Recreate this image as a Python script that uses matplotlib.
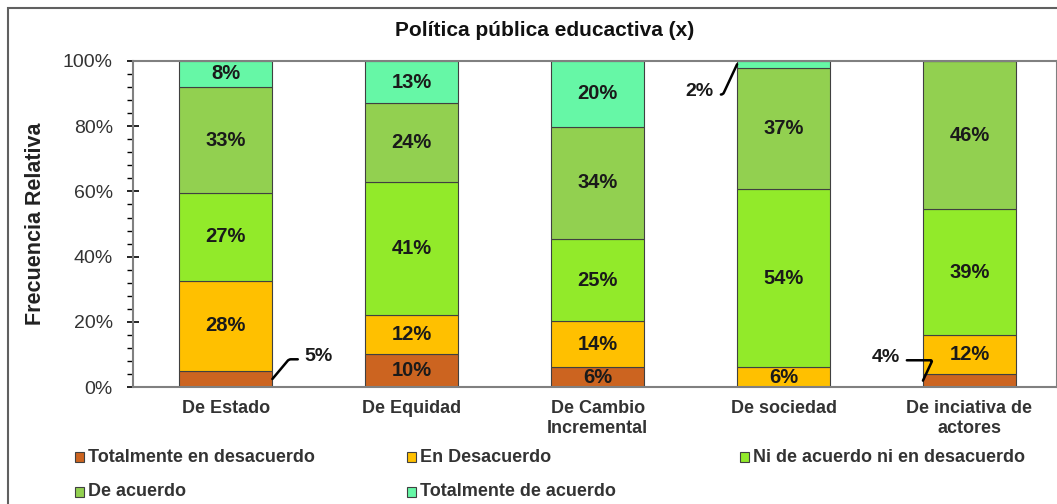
import matplotlib.pyplot as plt
import numpy as np
from matplotlib.patches import Rectangle
from matplotlib.ticker import MultipleLocator, PercentFormatter

plt.rcParams['font.family'] = ['Liberation Sans', 'DejaVu Sans']

# data (percent per category)
categories = ['De Estado', 'De Equidad', 'De Cambio\nIncremental', 'De sociedad', 'De inciativa de\nactores']
series = ['Totalmente en desacuerdo', 'En Desacuerdo', 'Ni de acuerdo ni en desacuerdo',
          'De acuerdo', 'Totalmente de acuerdo']
tot_desacuerdo = [5, 10, 6, 0, 4]
desacuerdo = [28, 12, 14, 6, 12]
ni_ni = [27, 41, 25, 54, 39]
de_acuerdo = [33, 24, 34, 37, 46]
tot_acuerdo = [8, 13, 20, 2, 0]
colors = ['#CC6420', '#FFC000', '#92EA2A', '#92D050', '#66F7A6']

vals = np.array([tot_desacuerdo, desacuerdo, ni_ni, de_acuerdo, tot_acuerdo], dtype=float)
heights = vals / vals.sum(axis=0) * 100  # stacked to 100%

# labels drawn outside the bar with a leader line: (series, bar, text x, text y, line angle)
outside = [(0, 0, 0.50, 9.3, 50), (4, 3, 2.55, 90.5, 65), (0, 4, 3.55, 9.0, 65)]

fig = plt.figure(figsize=(10.57, 5.04), dpi=100)
ax = fig.add_axes([0.1258, 0.232, 0.874, 0.647])
x = np.arange(len(categories))
w = 0.5
bottom = np.zeros(len(categories))
for i, name in enumerate(series):
    ax.bar(x, heights[i], w, bottom=bottom, color=colors[i], edgecolor='#404040', linewidth=0.8, label=name)
    for j in range(len(categories)):
        if vals[i, j] == 0 or any(o[0] == i and o[1] == j for o in outside):
            continue
        ax.text(x[j], bottom[j] + heights[i, j] / 2, f'{int(vals[i, j])}%', ha='center', va='center',
                fontsize=14.5, fontweight='bold', color='#1a1a1a')
    bottom += heights[i]

# leader-line labels
bases = np.vstack([np.zeros(len(categories)), np.cumsum(heights, axis=0)])
for i, j, tx, ty, ang in outside:
    mid = bases[i, j] + heights[i, j] / 2
    right = tx > x[j]
    xe = x[j] + w / 2 if right else x[j] - w / 2
    ax.annotate(f'{int(vals[i, j])}%', xy=(xe, mid), xytext=(tx, ty), ha='center', va='center',
                fontsize=14, fontweight='bold', color='#1a1a1a',
                arrowprops=dict(arrowstyle='-', color='black', lw=1.8, shrinkA=3, shrinkB=0,
                                relpos=(0, 0.35) if right else (1, 0.35),
                                connectionstyle=f'angle,angleA=0,angleB={ang},rad=2'))

ax.set_xlim(-0.5, 4.47)
ax.set_ylim(0, 100)
ax.set_xticks(x)
ax.set_xticklabels(categories, fontsize=13, fontweight='bold', color='#333333', linespacing=1.25)
ax.tick_params(axis='x', length=0, pad=9)
ax.yaxis.set_major_locator(MultipleLocator(20))
ax.yaxis.set_minor_locator(MultipleLocator(4))
ax.yaxis.set_major_formatter(PercentFormatter(decimals=0))
ax.tick_params(axis='y', which='major', direction='inout', length=9, width=1.2, labelsize=14,
               labelcolor='#333333', pad=10)
ax.tick_params(axis='y', which='minor', direction='out', length=4, width=1)
for s in ax.spines.values():
    s.set_color('#808080')
    s.set_linewidth(1.5)
ax.set_ylabel('Frecuencia Relativa', fontsize=15.5, fontweight='bold', color='#222222', labelpad=12)

fig.text(545 / 1057, 1 - 30 / 504, 'Política pública educactiva (x)', fontsize=15, fontweight='bold',
         color='#111111', ha='center', va='center')

# outer frame
fig.add_artist(Rectangle((0.008, -0.05), 1.2, 0.984 + 0.05, transform=fig.transFigure,
                         fill=False, edgecolor='#606060', linewidth=1.5))

# legend (3 columns)
leg_pos = [(80, 457), (412, 457), (745, 457), (80, 492), (412, 492)]
for (px, py), name, c in zip(leg_pos, series, colors):
    fx, fy = px / 1057, 1 - py / 504
    fig.add_artist(Rectangle((fx - 0.0045, fy - 0.009), 0.0085, 0.018, transform=fig.transFigure,
                             facecolor=c, edgecolor='#404040', linewidth=0.8))
    fig.text(fx + 0.008, fy, name, fontsize=13, fontweight='bold', color='#333333', va='center')

fig.savefig('out.png', dpi=100)
